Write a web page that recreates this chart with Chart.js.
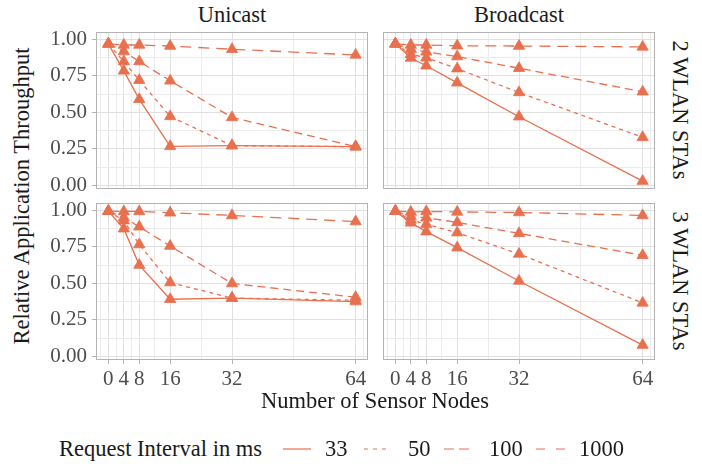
<!DOCTYPE html>
<html>
<head>
<meta charset="utf-8">
<script src="https://cdn.jsdelivr.net/npm/chart.js@4.4.1/dist/chart.umd.min.js"></script>
<style>
  body { margin: 0; background: #fff; }
  #wrap { position: relative; width: 702px; height: 466px; overflow: hidden;
          font-family: 'Liberation Serif', 'Times New Roman', serif; background: #fff; }
  #wrap canvas { position: absolute; }
  .txt { position: absolute; white-space: nowrap; line-height: 1; color: #1a1a1a; font-size: 22.5px; }
  .key { position: absolute; }
</style>
</head>
<body>
<div id="wrap">
  <canvas id="pTL"></canvas>
  <canvas id="pTR"></canvas>
  <canvas id="pBL"></canvas>
  <canvas id="pBR"></canvas>

  <div class="txt" style="left:232px;top:15px;transform:translate(-50%,-50%)">Unicast</div>
  <div class="txt" style="left:519px;top:15px;transform:translate(-50%,-50%)">Broadcast</div>
  <div class="txt" style="left:680px;top:110px;transform:translate(-50%,-50%) rotate(90deg)">2 WLAN STAs</div>
  <div class="txt" style="left:680px;top:281px;transform:translate(-50%,-50%) rotate(90deg)">3 WLAN STAs</div>
  <div class="txt" style="left:22px;top:196px;transform:translate(-50%,-50%) rotate(-90deg)">Relative Application Throughput</div>
  <div class="txt" style="left:375px;top:401px;transform:translate(-50%,-50%)">Number of Sensor Nodes</div>

  <div class="txt" style="left:59px;top:449px;transform:translateY(-50%)">Request Interval in ms</div>
  <svg class="key" style="left:283px;top:446px" width="28" height="6"><line x1="0" y1="3" x2="28" y2="3" stroke="#e9704f" stroke-width="1.2"/></svg>
  <div class="txt" style="left:325px;top:449px;transform:translateY(-50%)">33</div>
  <svg class="key" style="left:364px;top:446px" width="27" height="6"><line x1="0" y1="3" x2="27" y2="3" stroke="#e9704f" stroke-width="1.2" stroke-dasharray="4 5"/></svg>
  <div class="txt" style="left:408px;top:449px;transform:translateY(-50%)">50</div>
  <svg class="key" style="left:444px;top:446px" width="25" height="6"><line x1="0" y1="3" x2="25" y2="3" stroke="#e9704f" stroke-width="1.2" stroke-dasharray="10 5"/></svg>
  <div class="txt" style="left:489px;top:449px;transform:translateY(-50%)">100</div>
  <svg class="key" style="left:536px;top:446px" width="29" height="6"><line x1="0" y1="3" x2="29" y2="3" stroke="#e9704f" stroke-width="1.2" stroke-dasharray="9 11"/></svg>
  <div class="txt" style="left:579px;top:449px;transform:translateY(-50%)">1000</div>
</div>

<script>
// x positions (sensor nodes) and interval names
const nodes = [0, 4, 8, 16, 32, 64];
const minorNodes = [-2, 2, 6, 12, 24, 48, 66];
const yTicks = [0, 0.25, 0.5, 0.75, 1];
const yMinor = [0.125, 0.375, 0.625, 0.875];
const intervals = ['33', '50', '100', '1000'];

// Unicast, 2 WLAN STAs
const uni2_33   = [0.97, 0.785, 0.59, 0.268, 0.273, 0.266];
const uni2_50   = [0.97, 0.849, 0.721, 0.473, 0.273, 0.266];
const uni2_100  = [0.97, 0.917, 0.849, 0.717, 0.466, 0.266];
const uni2_1000 = [0.97, 0.962, 0.962, 0.955, 0.933, 0.894];

// Broadcast, 2 WLAN STAs
const bc2_33   = [0.97, 0.873, 0.82, 0.703, 0.471, 0.03];
const bc2_50   = [0.97, 0.899, 0.875, 0.80, 0.637, 0.33];
const bc2_100  = [0.97, 0.933, 0.915, 0.883, 0.803, 0.642];
const bc2_1000 = [0.97, 0.962, 0.962, 0.957, 0.955, 0.949];

// Unicast, 3 WLAN STAs
const uni3_33   = [0.995, 0.875, 0.626, 0.392, 0.40, 0.376];
const uni3_50   = [0.995, 0.93, 0.767, 0.506, 0.40, 0.385];
const uni3_100  = [0.995, 0.952, 0.888, 0.756, 0.50, 0.406];
const uni3_1000 = [0.995, 0.993, 0.993, 0.984, 0.966, 0.924];

// Broadcast, 3 WLAN STAs
const bc3_33   = [0.995, 0.915, 0.855, 0.745, 0.517, 0.078];
const bc3_50   = [0.995, 0.935, 0.905, 0.848, 0.702, 0.367];
const bc3_100  = [0.995, 0.958, 0.95, 0.918, 0.843, 0.693];
const bc3_1000 = [0.995, 0.99, 0.993, 0.99, 0.986, 0.966];

const COLOR = '#e9704f';
const DASHES = [[], [4, 4], [8, 5], [11, 7]];
const FONT = "'Liberation Serif', 'Times New Roman', serif";

const panelBorder = {
  id: 'panelBorder',
  afterDraw(chart) {
    const a = chart.chartArea, ctx = chart.ctx;
    ctx.save();
    ctx.strokeStyle = '#b3b3b3';
    ctx.lineWidth = 1;
    ctx.strokeRect(Math.round(a.left) + 0.5, Math.round(a.top) + 0.5,
                   Math.round(a.right - a.left) - 1, Math.round(a.bottom - a.top) - 1);
    ctx.restore();
  }
};

// labels may hang out of the plot area; keep Chart.js from shrinking it for them
function noPad(s) {
  s.paddingTop = 0; s.paddingBottom = 0; s.paddingLeft = 0; s.paddingRight = 0;
}

function makePanel(id, box, series, showX, showY) {
  const yW = showY ? 60 : 2;
  const xH = showX ? 34 : 2;
  const pad = 2;
  const cv = document.getElementById(id);
  cv.width = yW + box.w + pad;
  cv.height = pad + box.h + xH;
  cv.style.left = (box.x - yW) + 'px';
  cv.style.top = (box.y - pad) + 'px';

  const xAll = nodes.concat(minorNodes).sort((a, b) => a - b);
  const yAll = yTicks.concat(yMinor).sort((a, b) => a - b);

  new Chart(cv, {
    type: 'line',
    data: {
      datasets: series.map((vals, i) => ({
        label: intervals[i],
        data: nodes.map((n, j) => ({ x: n, y: vals[j] })),
        borderColor: COLOR,
        backgroundColor: COLOR,
        borderWidth: 1.3,
        borderDash: DASHES[i],
        pointStyle: 'triangle',
        pointRadius: 6.5,
        pointBorderWidth: 0.8,
        tension: 0,
        clip: false
      }))
    },
    options: {
      responsive: false,
      animation: false,
      devicePixelRatio: 1,
      layout: { autoPadding: false, padding: { top: pad, right: pad, left: 0, bottom: 0 } },
      plugins: { legend: { display: false }, tooltip: { enabled: false } },
      scales: {
        x: {
          type: 'linear', min: -3.2, max: 67.2,
          afterBuildTicks: s => { s.ticks = xAll.map(v => ({ value: v })); },
          afterFit: s => { s.height = xH; noPad(s); },
          border: { display: false },
          grid: {
            color: c => nodes.includes(c.tick.value) ? '#e0e0e0' : '#ececec',
            lineWidth: 1,
            drawTicks: showX,
            tickLength: 4,
            tickColor: c => nodes.includes(c.tick.value) ? '#b3b3b3' : 'rgba(0,0,0,0)'
          },
          ticks: {
            display: showX, autoSkip: false, maxRotation: 0, padding: 3,
            color: '#4d4d4d', font: { family: FONT, size: 21 },
            callback: v => nodes.includes(v) ? String(v) : ''
          }
        },
        y: {
          type: 'linear', min: -0.024, max: 1.051,
          afterBuildTicks: s => { s.ticks = yAll.map(v => ({ value: v })); },
          afterFit: s => { s.width = yW; noPad(s); },
          border: { display: false },
          grid: {
            color: c => yTicks.includes(c.tick.value) ? '#e0e0e0' : '#ececec',
            lineWidth: 1,
            drawTicks: showY,
            tickLength: 4,
            tickColor: c => yTicks.includes(c.tick.value) ? '#b3b3b3' : 'rgba(0,0,0,0)'
          },
          ticks: {
            display: showY, autoSkip: false, padding: 5,
            color: '#4d4d4d', font: { family: FONT, size: 21 },
            callback: v => yTicks.includes(v) ? v.toFixed(2) : ''
          }
        }
      }
    },
    plugins: [panelBorder]
  });
}

makePanel('pTL', { x: 96, y: 31.5, w: 272, h: 157 }, [uni2_33, uni2_50, uni2_100, uni2_1000], false, true);
makePanel('pTR', { x: 383, y: 31.5, w: 272, h: 157 }, [bc2_33, bc2_50, bc2_100, bc2_1000], false, false);
makePanel('pBL', { x: 96, y: 202.5, w: 272, h: 157.5 }, [uni3_33, uni3_50, uni3_100, uni3_1000], true, true);
makePanel('pBR', { x: 383, y: 202.5, w: 272, h: 157.5 }, [bc3_33, bc3_50, bc3_100, bc3_1000], true, false);
</script>
</body>
</html>
